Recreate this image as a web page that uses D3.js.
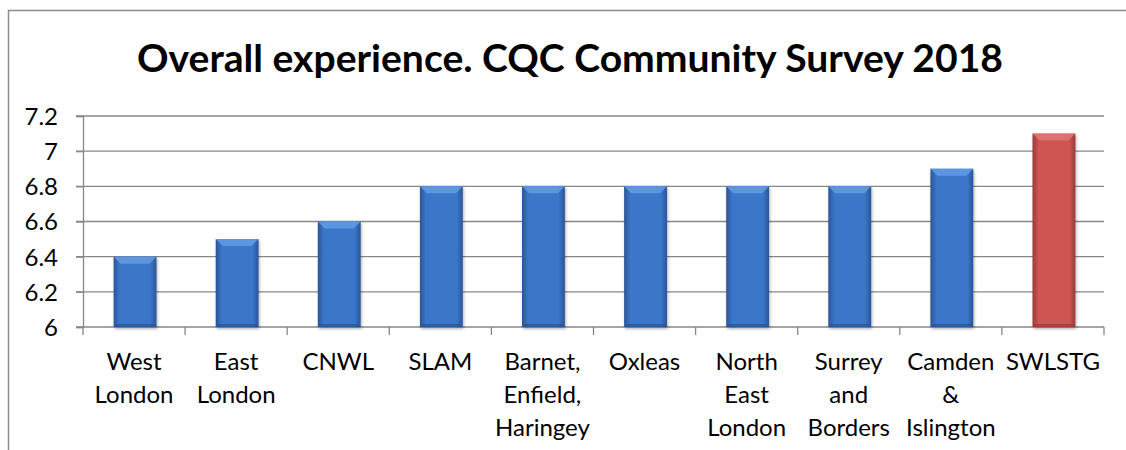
<!DOCTYPE html>
<html>
<head>
<meta charset="utf-8">
<script src="https://cdn.jsdelivr.net/npm/d3@7"></script>
<style>
  html, body { margin: 0; padding: 0; background: #fff; }
  svg { display: block; }
  text { font-family: Lato, "Open Sans", sans-serif; fill: #000; }
</style>
</head>
<body>
<svg id="chart" width="1126" height="450"></svg>
<script>
const title = "Overall experience. CQC Community Survey 2018";
const categories = [
  ["West", "London"],
  ["East", "London"],
  ["CNWL"],
  ["SLAM"],
  ["Barnet,", "Enfield,", "Haringey"],
  ["Oxleas"],
  ["North", "East", "London"],
  ["Surrey", "and", "Borders"],
  ["Camden", "&", "Islington"],
  ["SWLSTG"]
];
const values = [6.4, 6.5, 6.6, 6.8, 6.8, 6.8, 6.8, 6.8, 6.9, 7.1];
const highlight = ["SWLSTG"];
const yTicks = [6, 6.2, 6.4, 6.6, 6.8, 7, 7.2];

const svg = d3.select("#chart");
const defs = svg.append("defs");

function grad(id, edge, mid) {
  const g = defs.append("linearGradient").attr("id", id)
    .attr("x1", "0%").attr("x2", "100%").attr("y1", "0%").attr("y2", "0%");
  g.append("stop").attr("offset", "0%").attr("stop-color", edge);
  g.append("stop").attr("offset", "14%").attr("stop-color", mid);
  g.append("stop").attr("offset", "86%").attr("stop-color", mid);
  g.append("stop").attr("offset", "100%").attr("stop-color", edge);
}
grad("gBlue", "#2a5596", "#3a76c8");
grad("gRed", "#983a38", "#cf5452");

const f = defs.append("filter").attr("id", "shadow")
  .attr("x", "-20%").attr("y", "-10%").attr("width", "140%").attr("height", "130%");
f.append("feDropShadow").attr("dx", 1).attr("dy", 2).attr("stdDeviation", 1.5)
  .attr("flood-color", "#000").attr("flood-opacity", 0.3);

// outer frame (left and top edges visible)
svg.append("path")
  .attr("d", "M8.5,450 L8.5,10.5 L1126,10.5")
  .attr("fill", "none").attr("stroke", "#8c8c8c").attr("stroke-width", 1.5);

const x0 = 83, x1 = 1104, yTop = 116, yBot = 327;
const x = d3.scaleBand().domain(categories.map((c, i) => i)).range([x0, x1]).paddingInner(0).paddingOuter(0);
const y = d3.scaleLinear().domain([6, 7.2]).range([yBot, yTop]);

// gridlines
svg.append("g").selectAll("line").data(yTicks).join("line")
  .attr("x1", x0 - 7).attr("x2", x1)
  .attr("y1", d => y(d)).attr("y2", d => y(d))
  .attr("stroke", "#878787").attr("stroke-width", 1.3);

// y axis
const yAxis = svg.append("g").attr("transform", `translate(${x0},0)`)
  .call(d3.axisLeft(y).tickValues(yTicks).tickFormat(d => String(+d.toFixed(1))).tickSize(7).tickPadding(18));
yAxis.select(".domain").attr("stroke", "#878787").attr("stroke-width", 1.3);
yAxis.selectAll(".tick line").attr("stroke", "#878787").attr("stroke-width", 1.3);
yAxis.selectAll(".tick text").attr("font-size", 24).attr("font-family", "Lato, 'Open Sans', sans-serif").attr("fill", "#000").attr("dy", "0.35em");

// x axis ticks
const xTickPos = d3.range(categories.length + 1).map(i => x0 + i * x.bandwidth());
svg.append("g").selectAll("line").data(xTickPos).join("line")
  .attr("x1", d => d).attr("x2", d => d).attr("y1", yBot).attr("y2", yBot + 8)
  .attr("stroke", "#878787").attr("stroke-width", 1.3);

// bars
const bw = x.bandwidth() * 0.42;
const bars = svg.append("g").selectAll("g").data(values).join("g")
  .attr("filter", "url(#shadow)");
bars.each(function(v, i) {
  const g = d3.select(this);
  const isHi = highlight.includes(categories[i][0]);
  const bx = x(i) + (x.bandwidth() - bw) / 2 + 1;
  const by = y(v);
  const bh = yBot - by;
  g.append("rect").attr("x", bx).attr("y", by).attr("width", bw).attr("height", bh)
    .attr("fill", isHi ? "url(#gRed)" : "url(#gBlue)");
  // top bevel
  const b = 7;
  g.append("path")
    .attr("d", `M${bx},${by} L${bx + bw},${by} L${bx + bw - b},${by + b} L${bx + b},${by + b} Z`)
    .attr("fill", isHi ? "#e07572" : "#6199e2").attr("opacity", 0.9);
  // bottom bevel (darker)
  g.append("path")
    .attr("d", `M${bx},${yBot} L${bx + bw},${yBot} L${bx + bw - 3},${yBot - 3} L${bx + 3},${yBot - 3} Z`)
    .attr("fill", isHi ? "#8f3633" : "#244d8a").attr("opacity", 0.6);
});

// x labels
const lab = svg.append("g").selectAll("text").data(categories).join("text")
  .attr("text-anchor", "middle")
  .attr("font-size", 24)
  .attr("x", (d, i) => x(i) + x.bandwidth() / 2)
  .attr("y", 370);
lab.each(function(lines) {
  const t = d3.select(this);
  lines.forEach((l, k) => {
    t.append("tspan").attr("x", t.attr("x")).attr("y", 370 + k * 33).text(l);
  });
});

// title
svg.append("text").attr("x", 570).attr("y", 72)
  .attr("text-anchor", "middle").attr("font-size", 38).attr("font-weight", "bold")
  .attr("textLength", 866).attr("lengthAdjust", "spacingAndGlyphs")
  .text(title);
</script>
</body>
</html>
